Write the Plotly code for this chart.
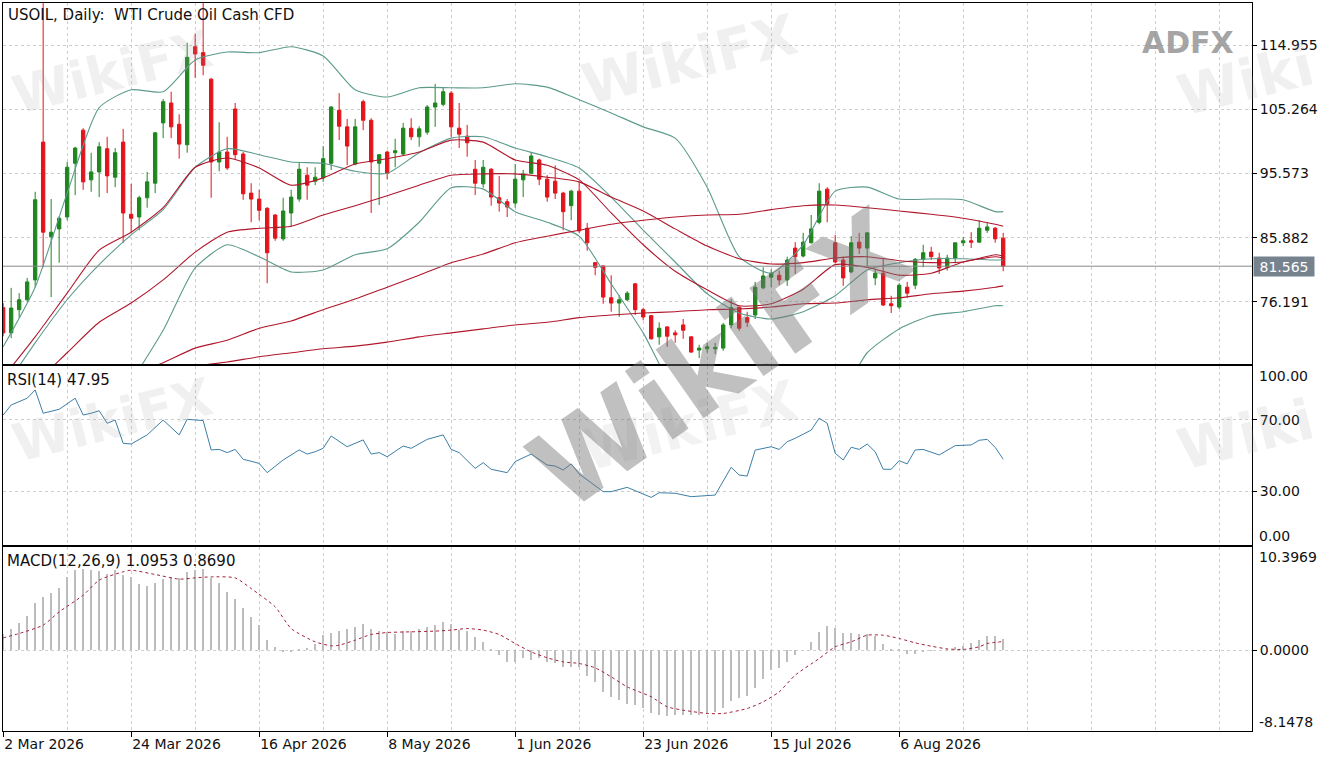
import plotly.graph_objects as go
from plotly.subplots import make_subplots

GREEN = '#1e861e'
RED = '#e3141b'
TEAL = '#5c9a8c'
MA_RED = '#b0172b'
GRID = '#cdcdcd'
FONT = 'DejaVu Sans'

# daily bars, index 0 = 2 Mar 2026
bars = list(range(126))
label_bars = [0, 16, 32, 48, 64, 80, 96, 112]
label_text = ['2 Mar 2026', '24 Mar 2026', '16 Apr 2026', '8 May 2026',
              '1 Jun 2026', '23 Jun 2026', '15 Jul 2026', '6 Aug 2026']

opens = [75.3, 71.5, 75.0, 76.5, 79.5, 100.3, 86.0, 87.2, 89.0, 97.1,
         102.1, 94.6, 95.8, 99.3, 95.0, 100.3, 89.4, 89.0, 91.9, 94.1,
         103.2, 106.2, 103.0, 99.9, 114.7, 113.8, 109.8, 97.3, 98.8, 105.3,
         98.5, 92.6, 91.7, 90.3, 89.3, 85.7, 89.6, 91.7, 95.3, 94.4,
         94.9, 97.1, 105.1, 102.6, 97.0, 106.4, 103.6, 97.1, 98.8, 98.7,
         98.5, 102.4, 101.1, 101.8, 105.6, 106.0, 107.7, 102.4, 101.2, 96.2,
         94.0, 96.2, 91.9, 91.3, 91.1, 94.6, 95.6, 97.6, 94.7, 94.4,
         92.6, 90.7, 92.9, 87.3, 82.1, 81.6, 76.8, 76.0, 76.5, 78.9,
         75.0, 74.1, 70.9, 72.4, 71.5, 72.7, 70.9, 68.9, 69.1, 69.1,
         69.2, 72.7, 75.4, 73.8, 74.2, 78.3, 79.9, 80.2, 79.5, 84.3,
         83.1, 85.1, 88.2, 93.2, 85.1, 82.5, 80.7, 85.2, 84.3, 79.8,
         80.5, 75.9, 75.4, 78.4, 78.7, 82.6, 83.7, 82.8, 81.4, 82.8,
         85.1, 85.4, 85.2, 87.0, 87.3, 85.8]
highs = [76.0, 78.3, 77.5, 79.8, 92.8, 122.0, 91.7, 89.1, 97.3, 99.6,
         102.4, 98.7, 100.3, 101.1, 99.4, 102.3, 94.0, 92.2, 95.8, 101.8,
         106.8, 107.9, 104.5, 115.3, 116.6, 121.5, 110.0, 103.3, 101.1, 106.2,
         98.8, 94.1, 93.1, 90.5, 89.4, 91.9, 93.1, 97.3, 96.5, 96.5,
         99.7, 105.7, 107.7, 103.8, 103.8, 106.7, 103.9, 98.5, 99.0, 100.8,
         103.2, 103.9, 102.7, 105.9, 109.1, 108.6, 108.0, 106.2, 102.9, 97.6,
         97.6, 96.4, 95.2, 91.7, 97.0, 96.1, 98.8, 97.8, 95.3, 96.8,
         92.8, 93.1, 94.3, 88.1, 82.2, 81.7, 80.2, 77.2, 77.8, 79.0,
         75.3, 74.2, 73.1, 72.5, 71.9, 73.6, 71.0, 69.7, 70.0, 70.0,
         73.0, 76.6, 75.4, 74.7, 79.2, 81.4, 81.1, 80.9, 83.0, 85.2,
         86.6, 89.3, 94.1, 93.5, 86.3, 83.0, 86.1, 86.6, 86.7, 81.1,
         82.8, 77.1, 79.0, 79.2, 82.8, 84.8, 84.5, 83.6, 83.3, 85.1,
         86.0, 86.7, 88.5, 88.2, 87.5, 86.6]
lows = [71.0, 70.7, 73.8, 76.2, 78.4, 81.4, 76.9, 82.1, 88.5, 92.3,
        93.1, 92.8, 92.0, 92.6, 93.5, 85.1, 86.7, 87.0, 90.4, 92.6,
        100.9, 100.9, 97.8, 98.7, 110.0, 110.4, 91.9, 95.9, 96.1, 97.6,
        91.6, 88.2, 88.5, 79.0, 85.4, 85.4, 87.5, 91.3, 91.6, 93.8,
        94.3, 96.1, 100.6, 96.8, 96.8, 102.1, 89.6, 90.8, 94.7, 96.5,
        98.2, 100.6, 99.6, 101.4, 102.6, 105.7, 101.1, 99.4, 98.1, 92.3,
        93.4, 90.7, 89.8, 89.0, 90.4, 92.0, 95.5, 93.8, 91.3, 91.7,
        87.0, 88.5, 86.6, 83.9, 80.2, 75.9, 74.7, 73.9, 76.3, 74.2,
        73.4, 70.5, 69.7, 69.4, 70.0, 70.6, 68.5, 67.7, 68.5, 68.3,
        68.8, 72.2, 71.8, 72.4, 73.6, 78.1, 78.4, 78.7, 78.6, 80.4,
        82.9, 85.0, 87.9, 88.2, 82.0, 78.6, 80.5, 83.4, 81.6, 78.7,
        75.6, 74.5, 75.1, 76.8, 78.1, 81.4, 82.5, 80.4, 80.9, 82.0,
        84.6, 84.3, 85.1, 86.6, 85.1, 80.8]
closes = [71.5, 75.25, 76.5, 79.2, 91.6, 86.7, 86.7, 88.8, 96.5, 99.4,
          94.3, 95.8, 99.6, 95.2, 98.7, 89.6, 88.8, 91.9, 94.3, 101.7,
          106.4, 102.6, 100.0, 113.1, 113.6, 111.9, 97.3, 98.8, 96.4, 98.4,
          92.5, 91.7, 90.0, 83.6, 85.8, 89.9, 92.0, 96.2, 93.8, 95.0,
          97.8, 105.6, 102.7, 99.7, 102.6, 103.6, 97.3, 98.4, 95.6, 99.0,
          102.4, 101.1, 102.3, 105.6, 106.2, 107.9, 102.6, 101.5, 100.2, 94.1,
          96.5, 92.0, 91.1, 90.5, 94.7, 95.5, 98.2, 94.7, 92.0, 92.6,
          89.8, 92.9, 86.9, 85.1, 81.4, 76.9, 76.0, 76.5, 77.5, 75.0,
          73.9, 70.6, 72.2, 71.0, 71.2, 71.9, 68.6, 69.2, 69.4, 69.3,
          72.7, 75.3, 72.2, 73.1, 78.4, 80.1, 80.5, 79.5, 82.5, 83.0,
          85.2, 87.2, 92.9, 91.0, 82.2, 79.8, 85.1, 84.3, 86.6, 80.5,
          75.7, 75.6, 78.7, 77.5, 82.6, 83.6, 83.0, 81.3, 82.8, 85.1,
          85.4, 85.2, 87.3, 87.5, 85.7, 81.565]

# indicator lines, read every 4th bar
line_bars = list(range(0, 125, 4)) + [125]
bb_upper = [69.4, 78.4, 92.6, 105.5, 108.2, 107.9, 112.7, 113.9, 113.8, 114.7,
            113.3, 108.2, 107.1, 108.5, 108.5, 108.5, 109.1, 108.6, 106.7, 104.7,
            102.6, 100.9, 93.5, 83.0, 80.5, 84.8, 92.9, 93.5, 91.7, 91.7,
            91.6, 89.8, 89.8]
bb_middle = [62.9, 70.0, 76.5, 81.8, 86.3, 90.1, 96.5, 99.3, 98.4, 97.3,
             97.1, 95.9, 95.6, 98.7, 100.9, 101.1, 99.4, 98.1, 96.4, 92.0,
             87.0, 82.2, 77.4, 74.5, 73.6, 74.7, 77.1, 81.0, 82.1, 82.7,
             82.7, 82.5, 82.5]
bb_lower = [56.4, 61.5, 60.3, 58.1, 64.2, 71.9, 81.3, 84.8, 83.0, 80.7,
            81.0, 83.3, 84.2, 88.2, 93.4, 93.2, 89.8, 88.2, 86.1, 78.9,
            71.5, 62.9, 61.2, 66.1, 66.7, 64.5, 61.2, 68.5, 72.1, 74.1,
            74.7, 75.6, 75.6]
ma_fast = [64.8, 70.9, 77.5, 84.0, 86.7, 90.4, 96.5, 97.9, 96.4, 93.8,
           94.9, 97.0, 97.8, 98.8, 100.6, 100.3, 97.6, 96.8, 94.6, 89.6,
           84.8, 80.8, 78.0, 75.6, 75.9, 78.1, 81.8, 81.4, 80.2, 80.5,
           82.2, 83.0, 82.8]
ma_mid = [59.9, 63.9, 68.5, 73.1, 76.0, 79.5, 83.7, 86.7, 87.3, 87.6,
          89.3, 90.7, 92.2, 93.8, 95.3, 95.5, 95.5, 95.0, 94.3, 92.0,
          89.9, 87.2, 84.6, 82.7, 81.9, 82.1, 82.8, 83.0, 82.4, 82.1,
          82.2, 83.3, 83.1]
ma_slow = [57.6, 59.6, 61.4, 63.2, 65.1, 67.0, 69.2, 70.4, 72.2, 73.3,
           75.0, 76.6, 78.4, 80.2, 82.1, 83.4, 85.1, 86.1, 87.0, 87.9,
           88.5, 89.0, 89.3, 89.4, 90.1, 90.7, 90.8, 90.4, 89.9, 89.4,
           88.8, 87.9, 87.6]
ma_long = [61.4, 62.1, 62.9, 63.9, 64.8, 65.8, 66.5, 67.1, 67.9, 68.5,
           69.1, 69.5, 70.1, 70.9, 71.5, 72.1, 72.7, 73.1, 73.8, 74.2,
           74.5, 74.7, 75.0, 75.1, 75.4, 75.9, 76.0, 76.5, 76.8, 77.4,
           77.8, 78.4, 78.6]
price_ticks = [76.191, 85.882, 95.573, 105.264, 114.955]
last_price = 81.565

rsi_bars = [0, 1, 3, 4, 5, 7, 9, 10, 11, 12, 13, 14, 15, 16, 18, 20, 22, 23, 25, 26,
            27, 28, 29, 30, 32, 33, 35, 37, 38, 39, 40, 41, 43, 45, 46, 47, 48, 50, 51, 53,
            55, 56, 57, 59, 60, 61, 63, 64, 66, 68, 69, 70, 71, 72, 75, 76, 78, 81, 82, 84,
            86, 89, 91, 92, 93, 94, 96, 97, 98, 99, 101, 102, 103, 104, 105, 106, 107, 108, 109, 110,
            111, 112, 113, 114, 115, 117, 119, 121, 122, 123, 124, 125]
rsi_vals = [72.6, 78.2, 82.0, 86.6, 73.6, 75.8, 82.0, 72.6, 73.6, 75.0, 68.0, 69.8, 56.8, 56.4, 61.5, 69.8, 61.5, 70.2, 69.5, 53.1,
            53.4, 51.6, 53.4, 47.9, 45.6, 40.4, 47.5, 53.1, 50.8, 52.1, 54.0, 60.9, 54.9, 58.7, 50.8, 51.6, 49.3, 55.3, 54.0, 59.0,
            61.5, 53.4, 51.6, 42.8, 46.0, 42.3, 40.4, 46.6, 50.8, 44.7, 44.1, 41.9, 45.3, 39.7, 29.8, 29.8, 32.2, 26.6, 29.2, 28.9,
            27.0, 27.9, 43.4, 39.1, 38.5, 53.0, 54.9, 53.4, 57.7, 59.6, 64.2, 70.8, 68.0, 51.2, 47.5, 54.6, 53.4, 56.4, 52.1, 42.3,
            42.3, 47.1, 45.3, 53.1, 53.4, 50.3, 55.5, 55.9, 58.5, 59.0, 54.5, 47.95]

macd_main = [1.6, 2.18, 2.69, 3.46, 4.80, 5.38, 5.81, 6.28, 7.39, 8.06,
             8.16, 8.06, 7.96, 7.63, 8.06, 7.56, 7.39, 6.62, 6.48, 6.72,
             7.22, 7.39, 7.29, 7.90, 8.06, 8.16, 7.29, 6.72, 5.88, 5.14,
             4.27, 3.36, 2.52, 1.01, 0.34, -0.10, -0.10, 0.10, 0.24, 0.57,
             1.51, 1.68, 1.92, 2.12, 2.35, 2.59, 2.18, 1.92, 1.78, 1.58,
             1.92, 1.92, 2.18, 2.35, 2.52, 2.86, 2.59, 2.02, 1.92, 1.34,
             0.84, 0.10, -0.50, -1.18, -1.18, -0.84, -1.01, -0.84, -1.18, -1.34,
             -1.68, -1.68, -1.68, -2.62, -3.19, -4.20, -4.70, -5.04, -5.38, -5.48,
             -5.88, -6.38, -6.55, -6.62, -6.55, -6.55, -6.55, -6.55, -6.38, -6.21,
             -5.81, -5.14, -4.87, -4.60, -3.80, -2.86, -2.02, -1.78, -1.18, -0.50,
             0.0, 0.84, 1.78, 2.45, 2.25, 1.68, 1.68, 1.58, 1.60, 1.41,
             0.60, 0.05, 0.02, -0.40, -0.34, -0.17, -0.07, 0.0, 0.07, 0.27,
             0.40, 0.67, 1.01, 1.41, 1.41, 1.0953]
sig_bars = [0, 2, 5, 7, 10, 12, 15, 16, 19, 22, 24, 26, 29, 31, 34, 36, 39, 41, 42, 44,
            46, 48, 51, 54, 56, 58, 60, 62, 64, 66, 68, 70, 72, 74, 76, 78, 81, 83, 85, 88,
            90, 93, 95, 97, 99, 102, 104, 106, 108, 110, 112, 114, 116, 118, 120, 122, 123, 125]
sig_vals = [1.24, 1.68, 2.52, 3.86, 5.54, 7.06, 7.90, 8.06, 7.63, 7.16, 7.29, 7.39, 7.29, 6.21, 4.37, 2.18, 0.84, 0.44, 0.50, 1.01,
            1.58, 1.78, 1.85, 1.92, 2.02, 2.18, 2.02, 1.58, 0.67, -0.17, -0.77, -1.18, -1.34, -1.78, -2.69, -3.70, -4.70, -5.71, -6.05, -6.38,
            -6.38, -5.88, -5.21, -4.20, -2.52, -0.84, 0.34, 0.84, 1.51, 1.51, 1.18, 0.74, 0.40, 0.13, 0.07, 0.34, 0.67, 0.869]
macd_top, macd_bottom = 10.3969, -8.1478

fig = make_subplots(rows=3, cols=1, shared_xaxes=True, vertical_spacing=0.003)

fig.add_trace(go.Candlestick(
    x=bars, open=opens, high=highs, low=lows, close=closes,
    increasing=dict(line=dict(color=GREEN, width=1), fillcolor=GREEN),
    decreasing=dict(line=dict(color=RED, width=1), fillcolor=RED),
    whiskerwidth=0, hoverinfo='skip'), row=1, col=1)

for vals, color in [(bb_upper, TEAL), (bb_middle, TEAL), (bb_lower, TEAL),
                    (ma_long, MA_RED), (ma_slow, MA_RED), (ma_mid, MA_RED), (ma_fast, MA_RED)]:
    fig.add_trace(go.Scatter(x=line_bars, y=vals, mode='lines',
                             line=dict(color=color, width=1.1, shape='spline', smoothing=0.6),
                             hoverinfo='skip'), row=1, col=1)

fig.add_hline(y=last_price, line=dict(color='#8a8a8a', width=1), row=1, col=1)

fig.add_trace(go.Scatter(x=rsi_bars, y=rsi_vals, mode='lines',
                         line=dict(color='#3d7ea6', width=1), hoverinfo='skip'), row=2, col=1)

fig.add_trace(go.Bar(x=bars, y=macd_main, width=0.15,
                     marker=dict(color='#bdbdbd', line=dict(width=0)), hoverinfo='skip'), row=3, col=1)
fig.add_trace(go.Scatter(x=sig_bars, y=sig_vals, mode='lines',
                         line=dict(color='#a3203a', width=1, dash='3px,3px', shape='spline', smoothing=0.6),
                         hoverinfo='skip'), row=3, col=1)

grid = dict(showgrid=True, gridcolor=GRID, griddash='3px,3px', gridwidth=1)
frame = dict(showline=True, mirror=True, linecolor='black', linewidth=1, zeroline=False)
tick_font = dict(family=FONT, size=14, color='#111111')
label_font = dict(family=FONT, size=15, color='#111111')

for n in (1, 2, 3):
    fig.update_xaxes(row=n, col=1, range=[-0.02, 156.1], tickvals=label_bars, ticktext=label_text,
                     showticklabels=(n == 3), ticks='outside' if n == 3 else '', ticklen=5,
                     tickcolor='black', ticklabelposition='outside right', tickfont=tick_font,
                     minor=dict(tick0=0, dtick=8, showgrid=True, gridcolor=GRID, griddash='3px,3px', ticks=''),
                     rangeslider_visible=False, **grid, **frame)

fig.update_yaxes(row=1, col=1, domain=[0.5041, 1.0], range=[66.80, 121.30], side='right',
                 tickvals=price_ticks, ticktext=['%.3f' % v for v in price_ticks],
                 ticks='outside', ticklen=4, tickcolor='black', tickfont=tick_font, **grid, **frame)
fig.update_yaxes(row=2, col=1, domain=[0.2555, 0.5014], range=[0, 100], side='right',
                 tickvals=[30, 70], ticktext=['30.00', '70.00'],
                 ticks='outside', ticklen=4, tickcolor='black', tickfont=tick_font, **grid, **frame)
fig.update_yaxes(row=3, col=1, domain=[0.0, 0.2527], range=[macd_bottom, macd_top], side='right',
                 tickvals=[0], ticktext=['0.0000'],
                 ticks='outside', ticklen=4, tickcolor='black', tickfont=tick_font, **grid, **frame)

# watermarks first so the chart text sits on top
marks = [('WikiFX', 0.088, 0.905, 52, -14, 'rgba(160,160,160,0.16)'),
         ('WikiFX', 0.550, 0.922, 56, -14, 'rgba(160,160,160,0.16)'),
         ('Wiki', 0.995, 0.894, 56, -14, 'rgba(160,160,160,0.16)'),
         ('WikiFX', 0.088, 0.427, 52, -14, 'rgba(160,160,160,0.16)'),
         ('WikiFX', 0.550, 0.420, 56, -14, 'rgba(160,160,160,0.14)'),
         ('Wiki', 0.995, 0.407, 56, -14, 'rgba(160,160,160,0.16)'),
         ('WikiFX', 0.574, 0.510, 110, -35, 'rgba(115,115,115,0.45)')]
for text, x, y, size, ang, col in marks:
    fig.add_annotation(xref='paper', yref='paper', x=x, y=y, xanchor='center', yanchor='middle',
                       text='<b>%s</b>' % text, showarrow=False, textangle=ang,
                       font=dict(family=FONT, size=size, color=col))
fig.add_annotation(xref='paper', yref='paper', x=0.9488, y=0.946, xanchor='center', yanchor='middle',
                   text='<b>ADFX</b>', showarrow=False,
                   font=dict(family=FONT, size=30, color='rgba(140,140,140,0.8)'))

anns = [
    dict(text='USOIL, Daily:  WTI Crude Oil Cash CFD', x=0, y=1, xanchor='left', yanchor='top',
         xshift=3, yshift=-1, font=label_font),
    dict(text='RSI(14) 47.95', x=0, y=0.5014, xanchor='left', yanchor='top', xshift=2, yshift=-3, font=label_font),
    dict(text='MACD(12,26,9) 1.0953 0.8690', x=0, y=0.2527, xanchor='left', yanchor='top',
         xshift=2, yshift=-3, font=label_font),
    dict(text='100.00', x=1, y=0.4876, xanchor='left', yanchor='middle', xshift=5, font=tick_font),
    dict(text='0.00', x=1, y=0.2679, xanchor='left', yanchor='middle', xshift=5, font=tick_font),
    dict(text='10.3969', x=1, y=0.2390, xanchor='left', yanchor='middle', xshift=5, font=tick_font),
    dict(text='-8.1478', x=1, y=0.0124, xanchor='left', yanchor='middle', xshift=5, font=tick_font),
]
for a in anns:
    fig.add_annotation(xref='paper', yref='paper', showarrow=False, **a)

fig.add_annotation(xref='paper', yref='y', x=1, y=last_price, xanchor='left', yanchor='middle',
                   xshift=1, text='81.565', showarrow=False, bgcolor='#76838f', width=58, height=17,
                   font=dict(family=FONT, size=14, color='white'))

fig.update_layout(width=1330, height=760, margin=dict(l=3, r=78, t=3, b=29),
                  paper_bgcolor='white', plot_bgcolor='white', showlegend=False,
                  boxgap=0.4, bargap=0)

fig.write_html("out.html", config={'displayModeBar': False},
               post_script="document.body.style.margin='0';")
